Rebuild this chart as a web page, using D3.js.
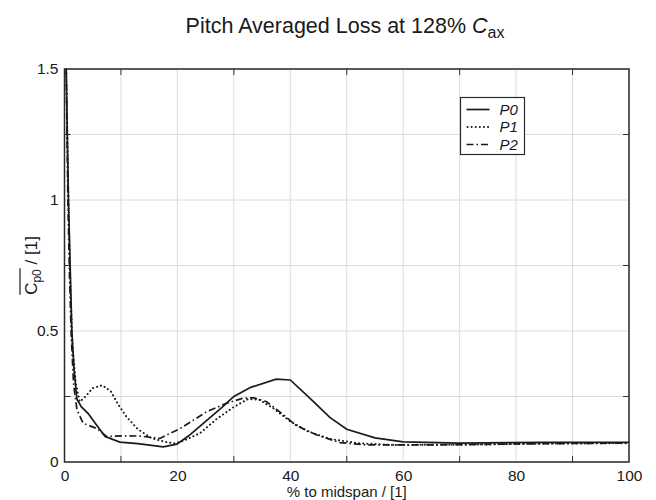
<!DOCTYPE html>
<html>
<head>
<meta charset="utf-8">
<script src="https://cdn.jsdelivr.net/npm/d3@7"></script>
<style>
  body { margin: 0; background: #fff; }
  text { font-family: "Liberation Sans", Arial, Helvetica, sans-serif; fill: #1a1a1a; }
</style>
</head>
<body>
<svg id="chart" width="656" height="500"></svg>
<script>
// values
var seriesNames = ["P0", "P1", "P2"];

var p0X = [0.3, 0.7, 1.0, 1.3, 1.7, 2.2, 3.0, 4.2, 5.7, 7.2, 9.8, 13, 17.5, 19.9, 22, 25, 28, 30, 33, 37.5, 40, 43.5, 47, 50, 55, 60, 70, 85, 100];
var p0Y = [1.5, 1.0, 0.75, 0.5, 0.35, 0.24, 0.21, 0.185, 0.14, 0.097, 0.076, 0.07, 0.058, 0.068, 0.1, 0.155, 0.21, 0.25, 0.285, 0.316, 0.313, 0.243, 0.17, 0.125, 0.092, 0.077, 0.072, 0.075, 0.075];

var p1X = [0.3, 0.7, 1.0, 1.4, 2.0, 2.7, 3.5, 5.0, 6.7, 8.2, 9.5, 11, 13, 15.5, 18, 19.5, 21, 24, 27, 30, 32.5, 34.5, 37, 40, 43, 47, 52, 58, 70, 85, 100];
var p1Y = [1.5, 1.0, 0.7, 0.45, 0.3, 0.23, 0.245, 0.282, 0.293, 0.27, 0.22, 0.172, 0.125, 0.09, 0.076, 0.071, 0.08, 0.11, 0.165, 0.21, 0.24, 0.238, 0.205, 0.155, 0.118, 0.088, 0.072, 0.065, 0.066, 0.07, 0.072];

var p2X = [0.3, 0.6, 0.9, 1.2, 1.6, 2.2, 3.3, 5.7, 7.5, 10, 13.4, 16.9, 20.5, 25.2, 28.7, 31.5, 33.5, 35.8, 38.8, 41, 44.7, 48.8, 53.5, 59.4, 70, 85, 100];
var p2Y = [1.5, 1.0, 0.7, 0.48, 0.3, 0.2, 0.148, 0.128, 0.097, 0.1, 0.099, 0.09, 0.128, 0.192, 0.224, 0.243, 0.245, 0.23, 0.18, 0.14, 0.103, 0.074, 0.065, 0.065, 0.066, 0.07, 0.072];

var xGridTicks = [0, 10, 20, 30, 40, 50, 60, 70, 80, 90, 100];
var xLabelTicks = [0, 20, 40, 60, 80, 100];
var xMinorTicks = [10, 30, 50, 70, 90];
var yGridTicks = [0, 0.25, 0.5, 0.75, 1, 1.25, 1.5];
var yLabelTicks = [0, 0.5, 1, 1.5];
var yMinorTicks = [0.25, 0.75, 1.25];

var dashes = ["none", "0.1,4", "7,3,1.5,3"];
var caps = ["butt", "round", "butt"];

var margin = {left: 64.5, right: 27, top: 69, bottom: 38};
var W = 656, H = 500;

var svg = d3.select("#chart");

var x = d3.scaleLinear().domain([0, 100]).range([margin.left, W - margin.right]);
var y = d3.scaleLinear().domain([0, 1.5]).range([H - margin.bottom, margin.top]);

// grid
svg.append("g").selectAll("line.vgrid")
    .data(xGridTicks)
    .enter().append("line")
    .attr("x1", function(d) { return x(d); })
    .attr("x2", function(d) { return x(d); })
    .attr("y1", y(0)).attr("y2", y(1.5))
    .attr("stroke", "#dcdcdc").attr("stroke-width", 1);

svg.append("g").selectAll("line.hgrid")
    .data(yGridTicks)
    .enter().append("line")
    .attr("y1", function(d) { return y(d); })
    .attr("y2", function(d) { return y(d); })
    .attr("x1", x(0)).attr("x2", x(100))
    .attr("stroke", "#dcdcdc").attr("stroke-width", 1);

// axes: labels only, tick marks drawn inward by hand below
var xAxis = d3.axisBottom(x).tickValues(xLabelTicks).tickSize(0).tickPadding(8).tickFormat(d3.format("d"));
var gx = svg.append("g").attr("transform", "translate(0," + y(0) + ")").call(xAxis);
gx.select(".domain").remove();
gx.selectAll("text").style("font-size", "15.5px").attr("fill", "#1a1a1a")
    .style("font-family", "Liberation Sans, Arial, sans-serif");

var yAxis = d3.axisLeft(y).tickValues(yLabelTicks).tickSize(0).tickPadding(6).tickFormat(function(d) { return String(d); });
var gy = svg.append("g").attr("transform", "translate(" + x(0) + ",0)").call(yAxis);
gy.select(".domain").remove();
gy.selectAll("text").style("font-size", "15.5px").attr("fill", "#1a1a1a")
    .style("font-family", "Liberation Sans, Arial, sans-serif");

// inward ticks on all four sides
var tk = 6;
svg.append("g").selectAll("line")
    .data(xMinorTicks)
    .enter().append("line")
    .attr("x1", function(d) { return x(d); }).attr("x2", function(d) { return x(d); })
    .attr("y1", y(0)).attr("y2", y(0) - tk)
    .attr("stroke", "#333").attr("stroke-width", 1);
svg.append("g").selectAll("line")
    .data(xMinorTicks)
    .enter().append("line")
    .attr("x1", function(d) { return x(d); }).attr("x2", function(d) { return x(d); })
    .attr("y1", y(1.5)).attr("y2", y(1.5) + tk)
    .attr("stroke", "#333").attr("stroke-width", 1);
svg.append("g").selectAll("line")
    .data(yMinorTicks)
    .enter().append("line")
    .attr("y1", function(d) { return y(d); }).attr("y2", function(d) { return y(d); })
    .attr("x1", x(0)).attr("x2", x(0) + tk)
    .attr("stroke", "#333").attr("stroke-width", 1);
svg.append("g").selectAll("line")
    .data(yMinorTicks)
    .enter().append("line")
    .attr("y1", function(d) { return y(d); }).attr("y2", function(d) { return y(d); })
    .attr("x1", x(100)).attr("x2", x(100) - tk)
    .attr("stroke", "#333").attr("stroke-width", 1);

// curves
var allSeries = [
    {name: seriesNames[0], xs: p0X, ys: p0Y},
    {name: seriesNames[1], xs: p1X, ys: p1Y},
    {name: seriesNames[2], xs: p2X, ys: p2Y}
];

var line = d3.line()
    .x(function(d) { return x(d[0]); })
    .y(function(d) { return y(d[1]); });

svg.append("g").selectAll("path")
    .data(allSeries)
    .enter().append("path")
    .attr("d", function(s) { return line(s.xs.map(function(v, i) { return [v, s.ys[i]]; })); })
    .attr("fill", "none")
    .attr("stroke", "#1a1a1a")
    .attr("stroke-width", function(s, i) { return i == 1 ? 2 : 1.7; })
    .attr("stroke-linecap", function(s, i) { return caps[i]; })
    .attr("stroke-dasharray", function(s, i) { return dashes[i]; });

// plot frame
svg.append("rect")
    .attr("x", x(0)).attr("y", y(1.5))
    .attr("width", x(100) - x(0)).attr("height", y(0) - y(1.5))
    .attr("fill", "none").attr("stroke", "#2a2a2a").attr("stroke-width", 1.5);

// legend
var leg = svg.append("g").attr("transform", "translate(460.5,97.5)");
leg.append("rect").attr("width", 64).attr("height", 57)
    .attr("fill", "#fff").attr("stroke", "#2a2a2a").attr("stroke-width", 1.2);

var legItems = leg.selectAll("g.item")
    .data(allSeries)
    .enter().append("g")
    .attr("transform", function(d, i) { return "translate(0," + (12 + i * 17.5) + ")"; });
legItems.append("line")
    .attr("x1", function(d, i) { return i == 1 ? 7 : 6; })
    .attr("x2", 29).attr("y1", 0).attr("y2", 0)
    .attr("stroke", "#1a1a1a")
    .attr("stroke-width", function(d, i) { return i == 1 ? 2 : 1.7; })
    .attr("stroke-linecap", function(d, i) { return caps[i]; })
    .attr("stroke-dasharray", function(d, i) { return dashes[i]; });
legItems.append("text")
    .attr("x", 39).attr("y", 5)
    .style("font-size", "15px").style("font-style", "italic")
    .text(function(d) { return d.name; });

// title
var title = svg.append("text")
    .attr("x", 345).attr("y", 33)
    .attr("text-anchor", "middle")
    .style("font-size", "21.5px");
title.append("tspan").text("Pitch Averaged Loss at 128% ");
title.append("tspan").style("font-style", "italic").text("C");
title.append("tspan").attr("dy", 5).style("font-size", "16px").text("ax");

// x label
svg.append("text")
    .attr("x", x(50)).attr("y", 497)
    .attr("text-anchor", "middle")
    .style("font-size", "15px")
    .text("% to midspan / [1]");

// y label with overline
var yl = svg.append("g").attr("transform", "translate(37," + y(0.75) + ") rotate(-90)");
var ylt = yl.append("text").attr("text-anchor", "middle").style("font-size", "17px");
var partC = ylt.append("tspan").text("C");
var partSub = ylt.append("tspan").attr("dy", 4).style("font-size", "12px").text("p0");
ylt.append("tspan").attr("dy", -4).text(" / [1]");

var cStart = partC.node().getStartPositionOfChar(0).x;
var subEnd = partSub.node().getEndPositionOfChar(1).x;
yl.append("line")
    .attr("x1", cStart).attr("x2", subEnd + 1)
    .attr("y1", -17).attr("y2", -17)
    .attr("stroke", "#1a1a1a").attr("stroke-width", 1.2);
</script>
</body>
</html>
